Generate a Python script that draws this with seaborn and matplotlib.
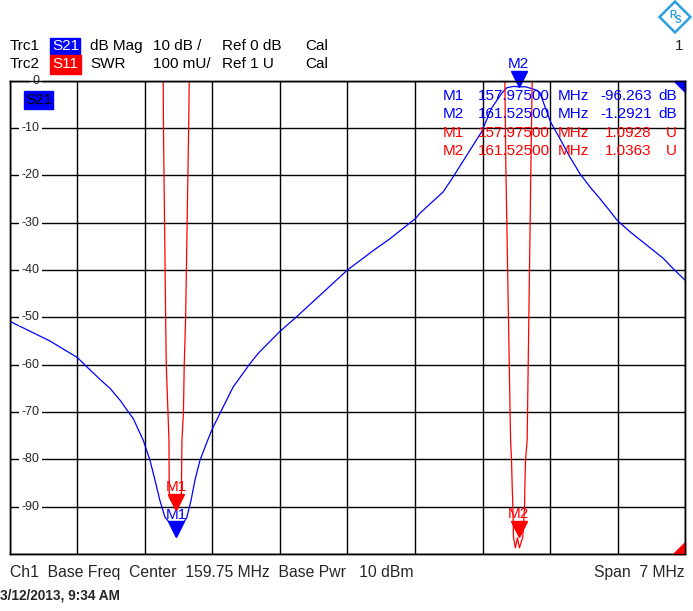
import matplotlib
matplotlib.use("Agg")
import numpy as np
import matplotlib.pyplot as plt
import matplotlib.transforms as mtransforms
from matplotlib.patches import Polygon, RegularPolygon, Rectangle
import seaborn as sns

# S21 trace, dB Mag
s21_freq = [156.250, 156.669, 156.954, 157.033, 157.187, 157.291, 157.395, 157.464,
            157.532, 157.636, 157.705, 157.757, 157.808, 157.860, 157.912, 157.975,
            158.047, 158.085, 158.130, 158.171, 158.223, 158.302, 158.350, 158.437,
            158.567, 158.733, 158.826, 159.044, 159.217, 159.500, 159.750, 160.017,
            160.190, 160.456, 160.501, 160.742, 160.846, 161.019, 161.140, 161.243,
            161.347, 161.400, 161.470, 161.525, 161.600, 161.709, 161.743, 161.854,
            161.950, 162.054, 162.157, 162.261, 162.365, 162.468, 162.544, 162.676,
            162.848, 163.020, 163.124, 163.245]
s21_db = [-50.8, -55.0, -58.5, -60.1, -63.1, -65.0, -67.5, -69.5,
          -71.4, -76.0, -80.2, -84.4, -88.7, -92.2, -93.5, -96.3,
          -93.5, -92.4, -88.7, -84.4, -80.2, -76.0, -73.6, -70.0,
          -64.7, -60.0, -57.6, -53.1, -50.0, -44.7, -40.0, -35.9,
          -33.4, -29.1, -28.0, -23.5, -20.3, -14.7, -10.8, -5.8,
          -2.7, -1.5, -1.2, -1.29, -1.3, -2.0, -2.5, -8.7,
          -12.2, -16.1, -19.6, -22.4, -24.9, -27.5, -29.5, -31.9,
          -34.7, -37.5, -39.7, -42.1]

# S11 trace, SWR (mostly above the top of the screen)
s11_freq = [156.250, 157.600, 157.835, 157.8426, 157.8447, 157.8675, 157.8737, 157.8913,
            157.9016, 157.905, 157.975, 158.030, 158.0362, 158.0518, 158.060, 158.0745,
            158.1056, 158.1118, 158.120, 158.350, 159.750, 161.200, 161.375, 161.381,
            161.391, 161.440, 161.450, 161.457, 161.464, 161.470, 161.490, 161.511,
            161.532, 161.567, 161.585, 161.588, 161.595, 161.612, 161.651, 161.664,
            161.670, 161.850, 163.250]
s11_swr = [12.0, 8.0, 2.3, 2.0, 1.9, 1.5, 1.4, 1.3,
           1.24, 1.12, 1.0928, 1.12, 1.24, 1.3, 1.4, 1.5,
           1.9, 2.0, 2.3, 8.0, 12.0, 8.0, 2.3, 2.0,
           1.822, 1.241, 1.199, 1.142, 1.099, 1.036, 1.013, 1.034,
           1.013, 1.036, 1.099, 1.142, 1.199, 1.241, 1.822, 2.0,
           2.3, 8.0, 12.0]

db_ticks = [0, -10, -20, -30, -40, -50, -60, -70, -80, -90]
marker_names = ["M1", "M2"]
marker_freq = [157.975, 161.525]
marker_s21 = [-96.263, -1.2921]
marker_swr = [1.0928, 1.0363]
marker_s21_txt = ["-96.263", "-1.2921"]
marker_swr_txt = ["1.0928", "1.0363"]

W, H = 693, 611
BLUE, RED = "#0000ff", "#ff0000"


def fx(x):
    return x / W


def fy(y):
    return 1 - y / H


sns.set_style("white")
plt.rcParams["font.family"] = ["Liberation Sans", "DejaVu Sans"]

fig = plt.figure(figsize=(W / 100, H / 100), dpi=100)
left, right, top, bottom = 9.5, 685.3, 80.7, 554
ax = fig.add_axes([fx(left), fy(bottom), (right - left) / W, (bottom - top) / H])
ax2 = ax.twinx()

sns.lineplot(x=s21_freq, y=s21_db, ax=ax, color=BLUE, lw=0.9, sort=False, estimator=None)
sns.lineplot(x=s11_freq, y=s11_swr, ax=ax2, color=RED, lw=0.9, sort=False, estimator=None)

ax.set_xlim(156.25, 163.25)
ax.set_ylim(-100, 0)
ax2.set_ylim(1, 2)
ax.set_xticks(np.linspace(156.25, 163.25, 11))
ax.set_yticks(np.arange(-100, 1, 10))
ax.grid(True, color="black", lw=1.0)
ax.set_axisbelow(True)
ax.tick_params(labelleft=False, labelbottom=False, length=0)
ax2.set_yticks([])
for a in (ax, ax2):
    a.set_xlabel("")
    a.set_ylabel("")
    for s in a.spines.values():
        s.set_color("black")
        s.set_linewidth(1.0)

# dB labels sitting on the grid lines
ytr = ax.get_yaxis_transform()
for v in db_ticks:
    ax.text((39.5 - left) / (right - left), v, str(v), transform=ytr, ha="right", va="center",
            fontsize=9, bbox=dict(boxstyle="square,pad=0.2", fc="white", ec="none"), zorder=3)

# markers: triangle tip on the trace value
off_b = mtransforms.offset_copy(ax.transData, fig=fig, y=5.5, units="points")
off_r = mtransforms.offset_copy(ax2.transData, fig=fig, y=5.5, units="points")
ax.plot(marker_freq, marker_s21, ls="none", marker="v", ms=11, color=BLUE,
        transform=off_b, clip_on=False, zorder=5)
ax2.plot(marker_freq, marker_swr, ls="none", marker="v", ms=11, color=RED,
         transform=off_r, clip_on=False, zorder=5)
for name, f, v, dy in zip(marker_names, marker_freq, marker_s21, [15, 16.5]):
    ax.annotate(name, (f, v), xytext=(0, dy), textcoords="offset points", ha="center",
                va="center", color=BLUE, fontsize=11, annotation_clip=False)
for name, f, v in zip(marker_names, marker_freq, marker_swr):
    ax2.annotate(name, (f, v), xytext=(0, 16.5), textcoords="offset points", ha="center",
                 va="center", color=RED, fontsize=11, annotation_clip=False)

# corner flags
ax.add_patch(Polygon([((674 - left) / (right - left), 1), (1, 1), (1, 1 - 11 / (bottom - top))],
                     closed=True, transform=ax.transAxes, color=BLUE, clip_on=False, zorder=6))
ax.add_patch(Polygon([((673 - left) / (right - left), 0), (1, 0), (1, 12 / (bottom - top))],
                     closed=True, transform=ax.transAxes, color=RED, clip_on=False, zorder=6))

# trace label inside the grid
fig.patches.append(Rectangle((fx(24), fy(109)), 29 / W, 18 / H, transform=fig.transFigure,
                             color=BLUE, zorder=4))
fig.text(fx(25), fy(100), "S21", color="black", fontsize=11, va="center", zorder=5)

# marker table
rows_y = [96, 114, 133, 151]
for i in range(2):
    for j, (col, vals, unit) in enumerate([(BLUE, marker_s21_txt, "dB"), (RED, marker_swr_txt, "U")]):
        y = rows_y[j * 2 + i]
        fig.text(fx(443), fy(y), marker_names[i], color=col, fontsize=11, va="center")
        fig.text(fx(478), fy(y), f"{marker_freq[i]:.5f}", color=col, fontsize=11, va="center")
        fig.text(fx(558), fy(y), "MHz", color=col, fontsize=11, va="center")
        fig.text(fx(652), fy(y), vals[i], color=col, fontsize=11, va="center", ha="right")
        fig.text(fx(677), fy(y), unit, color=col, fontsize=11, va="center", ha="right")

# header
fig.patches.append(Rectangle((fx(50), fy(54)), 30 / W, 16 / H, transform=fig.transFigure, color=BLUE))
fig.patches.append(Rectangle((fx(50), fy(74)), 31 / W, 19 / H, transform=fig.transFigure, color=RED))
for y, row in [(46, ["Trc1", "S21", "dB Mag", "10 dB /", "Ref 0 dB", "Cal"]),
               (64, ["Trc2", "S11", "SWR", "100 mU/", "Ref 1 U", "Cal"])]:
    for x, t in zip([10, 52, 90, 153, 222, 305], row):
        fig.text(fx(x), fy(y), t, fontsize=11, va="center",
                 color="white" if t.startswith("S1") or t.startswith("S2") else "black")
fig.text(fx(683), fy(46), "1", fontsize=11, va="center", ha="right")

# footer
fig.text(fx(10), fy(572), "Ch1  Base Freq  Center  159.75 MHz  Base Pwr   10 dBm",
         fontsize=11.3, va="center")
fig.text(fx(685), fy(572), "Span  7 MHz", fontsize=11.3, va="center", ha="right")
fig.text(fx(0), fy(595), "3/12/2013, 9:34 AM", fontsize=9.8, va="center", fontweight="bold",
         family=["Liberation Sans Narrow", "Liberation Sans"])

# R&S logo
lax = fig.add_axes([fx(657), fy(34), 36 / W, 34 / H])
lax.set_xlim(-1.1, 1.1)
lax.set_ylim(-1.1, 1.1)
lax.set_aspect("equal")
lax.axis("off")
lax.add_patch(RegularPolygon((0, 0), 4, radius=1.0, fc="white", ec="#2b9fe0", lw=1.8))
lax.text(-0.15, 0.15, "R", color="#2b9fe0", fontsize=7, ha="center", va="center", fontweight="bold")
lax.text(0.2, -0.2, "S", color="#2b9fe0", fontsize=7, ha="center", va="center", fontweight="bold")

fig.savefig("out.png", dpi=100)
